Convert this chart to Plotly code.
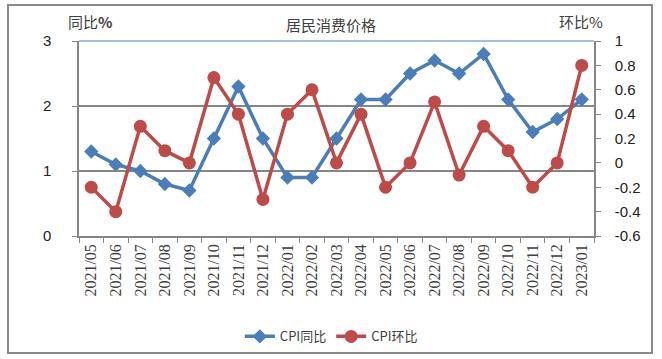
import plotly.graph_objects as go

months = ["2021/05","2021/06","2021/07","2021/08","2021/09","2021/10","2021/11","2021/12",
          "2022/01","2022/02","2022/03","2022/04","2022/05","2022/06","2022/07","2022/08",
          "2022/09","2022/10","2022/11","2022/12","2023/01"]
cpi_yoy = [1.3, 1.1, 1.0, 0.8, 0.7, 1.5, 2.3, 1.5, 0.9, 0.9, 1.5, 2.1, 2.1, 2.5, 2.7, 2.5, 2.8, 2.1, 1.6, 1.8, 2.1]
cpi_mom = [-0.2, -0.4, 0.3, 0.1, 0.0, 0.7, 0.4, -0.3, 0.4, 0.6, 0.0, 0.4, -0.2, 0.0, 0.5, -0.1, 0.3, 0.1, -0.2, 0.0, 0.8]
mom_ticks = [-0.6, -0.4, -0.2, 0, 0.2, 0.4, 0.6, 0.8, 1]
mom_tick_labels = ["-0.6", "-0.4", "-0.2", "0", "0.2", "0.4", "0.6", "0.8", "1"]

blue = "#4a7ebb"
red = "#be4b48"
axis_gray = "#868686"
txt = "#404040"
cjk = "Noto Sans CJK SC"

fig = go.Figure()
fig.add_trace(go.Scatter(x=months, y=cpi_yoy, name="CPI同比", mode="lines+markers",
                         line=dict(color=blue, width=3.5),
                         marker=dict(symbol="diamond", size=11, color=blue)))
fig.add_trace(go.Scatter(x=months, y=cpi_mom, name="CPI环比", mode="lines+markers", yaxis="y2",
                         line=dict(color=red, width=3.5),
                         marker=dict(symbol="circle", size=13, color=red)))

fig.update_layout(
    width=662, height=359,
    margin=dict(l=79, r=68, t=41, b=123, autoexpand=False),
    paper_bgcolor="white", plot_bgcolor="white",
    font=dict(family=cjk, color=txt, size=13),
    showlegend=True,
    legend=dict(orientation="h", x=0.49, xanchor="center", y=-0.515, yanchor="middle",
                font=dict(family=cjk, size=13, color=txt), itemwidth=30, tracegroupgap=0),
    xaxis=dict(type="category", tickangle=-90, tickson="boundaries", ticks="outside", ticklen=5,
               tickcolor=axis_gray, showline=True, linecolor=axis_gray, linewidth=1.5,
               showgrid=False, tickfont=dict(family="Liberation Serif", size=16, color=txt),
               range=[-0.5, 20.5], automargin=False),
    yaxis=dict(range=[0, 3], dtick=1, ticks="outside", ticklen=5, tickcolor=axis_gray,
               showline=True, linecolor=axis_gray, linewidth=1.5, showgrid=True,
               gridcolor=axis_gray, gridwidth=1.5, zeroline=False, automargin=False,
               tickfont=dict(family="Liberation Sans", size=15, color="#222"), ticklabelstandoff=18),
    yaxis2=dict(range=[-0.6, 1], tickvals=mom_ticks, ticktext=mom_tick_labels, overlaying="y",
                side="right", ticks="outside", ticklen=5, automargin=False,
                tickcolor=axis_gray, showline=True, linecolor=axis_gray, linewidth=1.5,
                showgrid=False, zeroline=False,
                tickfont=dict(family="Liberation Sans", size=15, color="#222"), ticklabelstandoff=11),
    shapes=[
        dict(type="line", xref="paper", yref="paper", x0=0, x1=1, y0=1, y1=1,
             line=dict(color=blue, width=1.2)),
        dict(type="rect", xref="paper", yref="paper", x0=-0.1379, x1=1.1126, y0=-0.6, y1=1.1846,
             line=dict(color="#8a8a8a", width=2), fillcolor="rgba(0,0,0,0)", layer="below"),
    ],
    annotations=[
        dict(text="居民消费价格", xref="paper", yref="paper", x=0.49, xanchor="center", y=1.0,
             yanchor="bottom", yshift=4, showarrow=False, font=dict(family=cjk, size=15, color=txt)),
        dict(text="同比<b>%</b>", xref="paper", yref="paper", x=-0.025, xanchor="left", y=1.0,
             yanchor="bottom", yshift=7, showarrow=False, font=dict(family=cjk, size=15, color=txt)),
        dict(text="环比%", xref="paper", yref="paper", x=0.975, xanchor="center", y=1.0,
             yanchor="bottom", yshift=7, showarrow=False, font=dict(family=cjk, size=15, color=txt)),
    ],
)

fig.write_html("out.html", config={"displayModeBar": False},
               post_script="document.body.style.margin='0';document.body.style.overflow='hidden';")
